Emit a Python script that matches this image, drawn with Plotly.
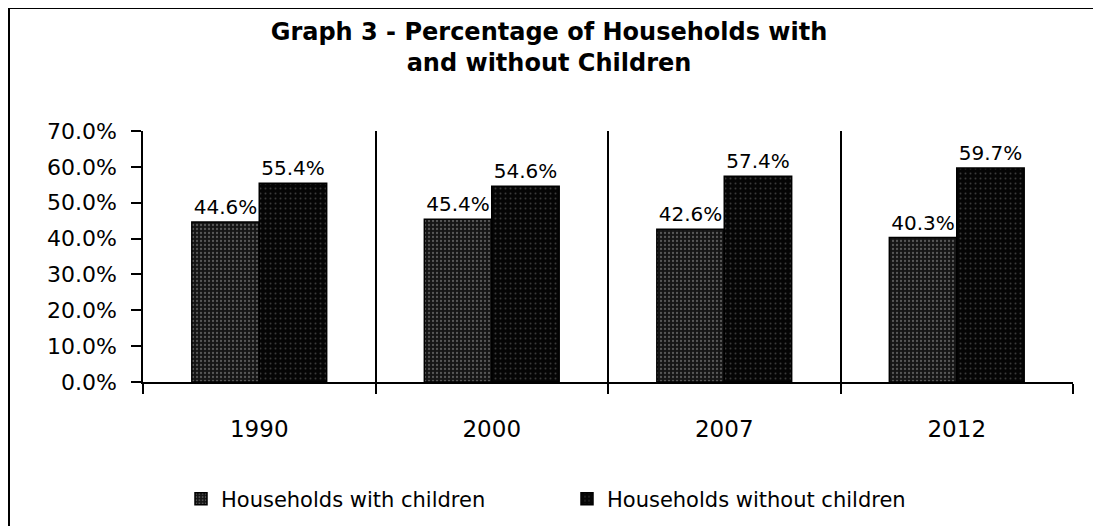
import plotly.graph_objects as go

years = ["1990", "2000", "2007", "2012"]
with_children = [0.446, 0.454, 0.426, 0.403]
without_children = [0.554, 0.546, 0.574, 0.597]
series_names = ["Households with children", "Households without children"]
title_text = "Graph 3 - Percentage of Households with<br>and without Children"

# the page places the figure 8px from the window's top-left corner
OFF = 8
W, H = 1101 - OFF, 526 - OFF
L, R, T, B = 143 - OFF, 1101 - 1073, 131 - OFF, 526 - 382
pw = W - L - R
ph = H - T - B

def px_x(x):  # window pixel -> paper x
    return (x - OFF - L) / pw

def px_y(y):  # window pixel -> paper y
    return (H - B - (y - OFF)) / ph

label_font = dict(family="DejaVu Sans", size=20, color="#000")

fig = go.Figure()
fig.add_trace(go.Bar(
    x=years, y=with_children, name=series_names[0],
    marker=dict(color="#151515", line=dict(color="#000000", width=1.5),
                pattern=dict(shape=".", fgcolor="#9a9a9a", bgcolor="#151515", size=4, solidity=0.25)),
    text=[f"{v*100:.1f}%" for v in with_children], textposition="outside",
    textfont=label_font, cliponaxis=False,
))
fig.add_trace(go.Bar(
    x=years, y=without_children, name=series_names[1],
    marker=dict(color="#050505", line=dict(color="#000000", width=1.5),
                pattern=dict(shape=".", fgcolor="#707070", bgcolor="#050505", size=5, solidity=0.12)),
    text=[f"{v*100:.1f}%" for v in without_children], textposition="outside",
    textfont=label_font, cliponaxis=False,
))

fig.update_layout(
    width=W, height=H,
    margin=dict(l=L, r=R, t=T, b=B, autoexpand=False),
    paper_bgcolor="white", plot_bgcolor="white",
    barmode="group", bargap=0.42, bargroupgap=0,
    title=dict(text=title_text, xref="container", x=(549 - OFF) / W, xanchor="center",
               yref="container", y=1 - (40 - OFF) / H, yanchor="middle",
               font=dict(family="DejaVu Sans", size=24, color="#000", weight="bold")),
    font=dict(family="DejaVu Sans", color="#000"),
    showlegend=True,
    legend=dict(orientation="h", x=px_x(181), xanchor="left", y=px_y(499), yanchor="middle",
                font=dict(family="DejaVu Sans", size=21, color="#000"),
                itemwidth=30, entrywidth=341, tracegroupgap=0, bgcolor="rgba(0,0,0,0)"),
    xaxis=dict(type="category", tickson="boundaries", ticks="outside", ticklen=10,
               tickcolor="#000", tickwidth=1.5, showgrid=True, gridcolor="#000", gridwidth=1.5,
               showline=True, linecolor="#000", linewidth=1.5,
               tickfont=dict(family="DejaVu Sans", size=23, color="#000"),
               ticklabelstandoff=26, range=[-0.5, 3.5]),
    yaxis=dict(range=[0, 0.7], dtick=0.1, tickformat=".1%", showgrid=False, zeroline=False,
               ticks="outside", ticklen=10, tickcolor="#000", tickwidth=1.5,
               showline=True, linecolor="#000", linewidth=1.5,
               tickfont=dict(family="DejaVu Sans", size=22, color="#000"),
               ticklabelstandoff=10),
)

# outer chart frame (left, top, right edges)
fig.add_shape(type="path", xref="paper", yref="paper",
              path=f"M {px_x(9)},{px_y(560)} L {px_x(9)},{px_y(8)} L {px_x(1096)},{px_y(8)} L {px_x(1096)},{px_y(560)}",
              line=dict(color="#000", width=2), layer="above")

fig.write_html("out.html")
